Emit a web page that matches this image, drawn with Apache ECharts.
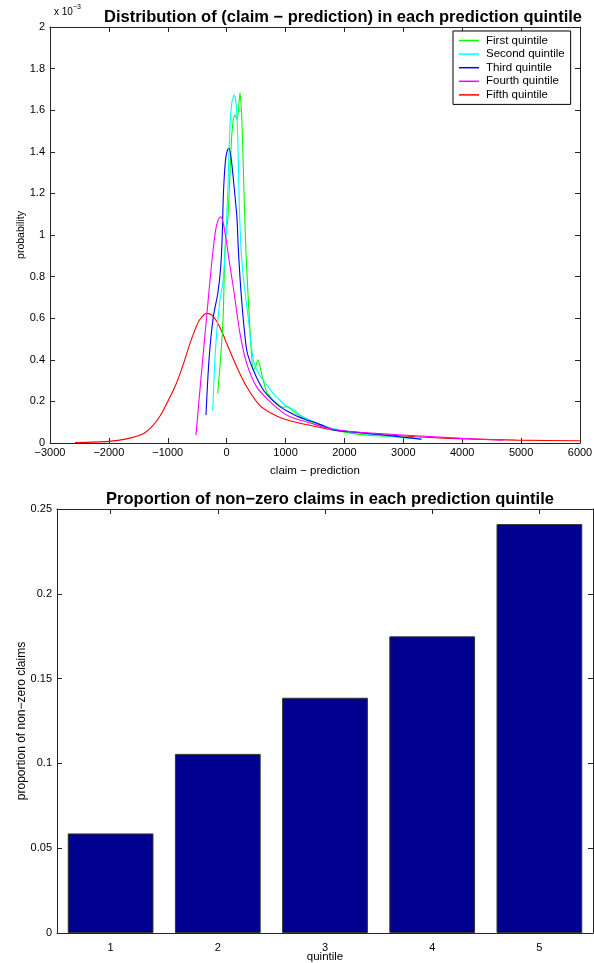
<!DOCTYPE html>
<html>
<head>
<meta charset="utf-8">
<script src="https://cdn.jsdelivr.net/npm/echarts@6/dist/echarts.min.js"></script>
<style>
html,body{margin:0;padding:0;background:#fff;}
#c{width:594px;height:963px;}
</style>
</head>
<body>
<div id="c"></div>
<script>
// ---- data (y values of densities in units of 1e-3) ----
const seriesNames = ['First quintile','Second quintile','Third quintile','Fourth quintile','Fifth quintile'];
const firstQuintile = [[-153,0.239],[-100,0.42],[-58,0.62],[-35,0.88],[-10,1.02],[17,1.07],[45,1.22],[80,1.45],[115,1.56],[146,1.577],[175,1.555],[200,1.6],[226,1.684],[250,1.6],[271,1.44],[300,1.15],[330,0.9],[375,0.65],[410,0.48],[452,0.351],[495,0.37],[530,0.4],[565,0.37],[600,0.325],[679,0.245],[760,0.215],[849,0.191],[950,0.172],[1018,0.175],[1080,0.165],[1188,0.14],[1358,0.111],[1528,0.092],[1810,0.063],[2376,0.038],[2942,0.03],[3300,0.02]];
const secondQuintile = [[-238,0.155],[-200,0.4],[-170,0.527],[-114,0.688],[-65,0.77],[-20,0.95],[20,1.22],[56,1.52],[90,1.64],[129,1.673],[160,1.63],[185,1.5],[214,1.15],[245,0.93],[290,0.78],[367,0.6],[452,0.4],[550,0.33],[679,0.28],[800,0.235],[905,0.205],[1000,0.18],[1075,0.17],[1150,0.16],[1245,0.135],[1500,0.1],[1810,0.07],[2376,0.043],[2942,0.027],[3300,0.02]];
const thirdQuintile = [[-351,0.135],[-300,0.4],[-227,0.607],[-150,0.72],[-100,0.85],[-75,1.0],[-55,1.2],[-20,1.36],[15,1.41],[39,1.417],[80,1.36],[130,1.22],[175,1.08],[200,0.92],[254,0.688],[340,0.447],[452,0.351],[622,0.255],[780,0.205],[905,0.175],[1050,0.15],[1188,0.13],[1350,0.112],[1471,0.102],[1640,0.083],[1810,0.063],[2263,0.05],[2700,0.037],[3000,0.028],[3310,0.018]];
const fourthQuintile = [[-521,0.038],[-440,0.3],[-340,0.607],[-260,0.85],[-190,1.02],[-140,1.075],[-102,1.088],[-60,1.06],[-10,0.98],[40,0.88],[112,0.75],[226,0.527],[340,0.383],[509,0.27],[735,0.199],[961,0.145],[1131,0.12],[1414,0.097],[1700,0.072],[2093,0.055],[2600,0.045],[3226,0.035],[4000,0.022],[4690,0.014]];
const fifthQuintile = [[-2575,0.002],[-2000,0.008],[-1700,0.02],[-1416,0.045],[-1250,0.085],[-1132,0.13],[-1000,0.2],[-849,0.29],[-723,0.39],[-623,0.479],[-530,0.55],[-453,0.595],[-340,0.623],[-250,0.615],[-170,0.585],[-80,0.535],[0,0.479],[170,0.367],[340,0.27],[565,0.18],[849,0.13],[1100,0.105],[1414,0.085],[1700,0.068],[2093,0.054],[2660,0.04],[3200,0.03],[3791,0.022],[4924,0.014],[6000,0.011]];
const curves = [firstQuintile, secondQuintile, thirdQuintile, fourthQuintile, fifthQuintile];
const curveColors = ['#00FF00','#00FFFF','#0000FF','#FF00FF','#FF0000'];

const quintiles = ['1','2','3','4','5'];
const nonZeroProportion = [0.0587, 0.1056, 0.1387, 0.1749, 0.2411];

const title1 = 'Distribution of (claim \u2212 prediction) in each prediction quintile';
const title2 = 'Proportion of non\u2212zero claims in each prediction quintile';

// ---- chart ----
const FONT = 'Liberation Sans, Arial, Helvetica, sans-serif';
const AX = '#262626';
const chart = echarts.init(document.getElementById('c'), null, {renderer:'canvas'});
const minus = v => String(v).replace('-', '\u2212');
function fmtY1(v){ return minus(+v.toFixed(1)); }
function fmtY2(v){ return String(+v.toFixed(2)); }

const axisCommon = {
  axisLine:{show:true, onZero:false, lineStyle:{color:AX, width:1}},
  axisTick:{show:true, inside:true, length:5, lineStyle:{color:AX}},
  splitLine:{show:false},
  nameMoveOverlap:false,
  axisLabel:{color:'#000', fontFamily:FONT, fontSize:11}
};

const option = {
  animation:false,
  backgroundColor:'#fff',
  title:[
    {text:title1, left:338, top:4, textAlign:'center', textStyle:{fontFamily:FONT, fontSize:16.5, fontWeight:'bold', color:'#000'}},
    {text:title2, left:325, top:486, textAlign:'center', textStyle:{fontFamily:FONT, fontSize:16.5, fontWeight:'bold', color:'#000'}}
  ],
  legend:{
    data:seriesNames, orient:'vertical', left:453, top:31,
    icon:'rect', itemWidth:20, itemHeight:1.5, itemGap:0.6,
    backgroundColor:'#fff', borderColor:'#000', borderWidth:1,
    padding:[3,6,3,6],
    textStyle:{fontFamily:FONT, fontSize:11.5, lineHeight:13, color:'#000', padding:[0,0,0,2]}
  },
  grid:[
    {left:50, right:14, top:27, height:416, outerBoundsMode:'none', containLabel:false},
    {left:57, right:1, top:509, height:424, outerBoundsMode:'none', containLabel:false}
  ],
  xAxis:[
    Object.assign({}, axisCommon, {type:'value', gridIndex:0, min:-3000, max:6000, interval:1000,
      name:'claim \u2212 prediction', nameLocation:'middle', nameGap:22,
      nameTextStyle:{fontFamily:FONT, fontSize:11.5, color:'#000'},
      axisLabel:Object.assign({}, axisCommon.axisLabel, {margin:4, formatter:minus})}),
    Object.assign({}, axisCommon, {type:'value', gridIndex:0, position:'top', min:-3000, max:6000, interval:1000, axisLabel:{show:false}}),
    Object.assign({}, axisCommon, {type:'category', gridIndex:1, data:quintiles,
      name:'quintile', nameLocation:'middle', nameGap:18,
      nameTextStyle:{fontFamily:FONT, fontSize:11.5, color:'#000'},
      axisTick:Object.assign({}, axisCommon.axisTick, {alignWithLabel:true}),
      axisLabel:Object.assign({}, axisCommon.axisLabel, {margin:9})}),
    Object.assign({}, axisCommon, {type:'category', gridIndex:1, position:'top', data:quintiles,
      axisTick:Object.assign({}, axisCommon.axisTick, {alignWithLabel:true}), axisLabel:{show:false}})
  ],
  yAxis:[
    Object.assign({}, axisCommon, {type:'value', gridIndex:0, min:0, max:2, interval:0.2,
      name:'probability', nameLocation:'middle', nameGap:23,
      nameTextStyle:{fontFamily:FONT, fontSize:10.5, color:'#000'},
      axisLabel:Object.assign({}, axisCommon.axisLabel, {margin:5, formatter:fmtY1})}),
    Object.assign({}, axisCommon, {type:'value', gridIndex:0, position:'right', min:0, max:2, interval:0.2, axisLabel:{show:false}}),
    Object.assign({}, axisCommon, {type:'value', gridIndex:1, min:0, max:0.25, interval:0.05,
      name:'proportion of non\u2212zero claims', nameLocation:'middle', nameGap:29,
      nameTextStyle:{fontFamily:FONT, fontSize:12, color:'#000'},
      axisLabel:Object.assign({}, axisCommon.axisLabel, {margin:5, formatter:fmtY2})}),
    Object.assign({}, axisCommon, {type:'value', gridIndex:1, position:'right', min:0, max:0.25, interval:0.05, axisLabel:{show:false}})
  ],
  graphic:[
    {type:'text', left:54, top:4, style:{
      text:'{a|x 10}{b|\u22123}', rich:{
        a:{fontFamily:FONT, fontSize:10, color:'#000', verticalAlign:'bottom'},
        b:{fontFamily:FONT, fontSize:7, color:'#000', verticalAlign:'top', padding:[0,0,6,0]}
      }}}
  ],
  series: curves.map((d,i)=>({
    name:seriesNames[i], type:'line', xAxisIndex:0, yAxisIndex:0,
    data:d, symbol:'none', smooth:0.25, clip:true,
    lineStyle:{color:curveColors[i], width:1.1}, itemStyle:{color:curveColors[i]}, z:2+ (i===4?0:1)
  })).concat([{
    type:'bar', xAxisIndex:2, yAxisIndex:2, data:nonZeroProportion,
    barCategoryGap:'20%',
    itemStyle:{color:'#00008F', borderColor:'#333', borderWidth:1}
  }])
};
chart.setOption(option);
</script>
</body>
</html>
